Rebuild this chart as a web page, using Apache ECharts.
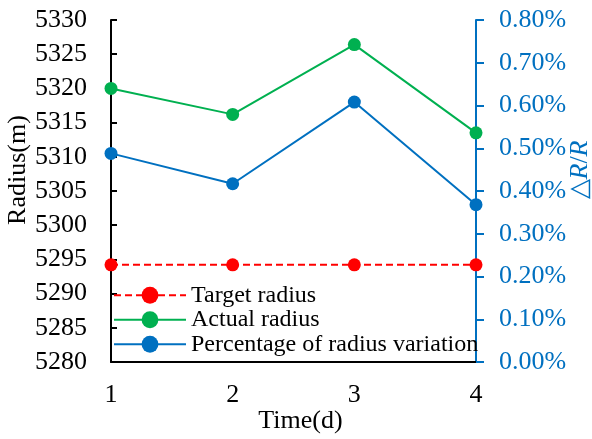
<!DOCTYPE html>
<html>
<head>
<meta charset="utf-8">
<script src="https://cdn.jsdelivr.net/npm/echarts@6/dist/echarts.min.js"></script>
<style>html,body{margin:0;padding:0;background:#fff;}#c{width:592px;height:439px;}</style>
</head>
<body>
<div id="c"></div>
<script>
const categories = ['1', '2', '3', '4'];
const targetRadius = [5294.2, 5294.2, 5294.2, 5294.2];
const actualRadius = [5320.0, 5316.2, 5326.4, 5313.5];
const radiusVariationPct = [0.488, 0.417, 0.608, 0.368];
const leftTicks = { min: 5280, max: 5330, interval: 5 };
const rightTicks = { min: 0, max: 0.8, interval: 0.1 };

const FONT = 'Liberation Serif';
const BLUE = '#0070C0';
const chart = echarts.init(document.getElementById('c'), null, { renderer: 'canvas' });
chart.setOption({
  animation: false,
  backgroundColor: '#fff',
  textStyle: { fontFamily: FONT },
  grid: { left: 111, right: 116, top: 20, bottom: 77, outerBoundsMode: 'none' },
  legend: {
    orient: 'vertical', left: 113, top: 283, padding: 0,
    itemWidth: 72, itemHeight: 21, itemGap: 0,
    textStyle: { fontFamily: FONT, fontSize: 24, color: '#000', lineHeight: 24.5, padding: [0, 0, 0, 0] },
    data: ['Target radius', 'Actual radius', 'Percentage of radius variation']
  },
  xAxis: {
    type: 'category', data: categories, boundaryGap: false,
    name: 'Time(d)', nameLocation: 'middle', nameGap: 46, nameMoveOverlap: false,
    nameTextStyle: { fontFamily: FONT, fontSize: 26, color: '#000', padding: [0, 0, 0, 14] },
    axisLine: { lineStyle: { color: '#000', width: 2 } },
    axisTick: { show: false },
    axisLabel: { fontFamily: FONT, fontSize: 26, color: '#000', margin: 20 },
    splitLine: { show: false }
  },
  yAxis: [{
    type: 'value', min: leftTicks.min, max: leftTicks.max, interval: leftTicks.interval,
    name: 'Radius(m)', nameLocation: 'middle', nameGap: 80, nameRotate: 90, nameMoveOverlap: false,
    nameTextStyle: { fontFamily: FONT, fontSize: 26, color: '#000', padding: [0, 0, 0, 42] },
    axisLine: { show: true, lineStyle: { color: '#000', width: 2 } },
    axisTick: { show: true, inside: true, length: 6, lineStyle: { color: '#000', width: 2 } },
    axisLabel: { fontFamily: FONT, fontSize: 26, color: '#000', margin: 24, formatter: v => String(v) },
    splitLine: { show: false }
  }, {
    type: 'value', position: 'right', min: rightTicks.min, max: rightTicks.max, interval: rightTicks.interval,
    name: '{a|△}{b|R}{a|/}{b|R}', nameLocation: 'middle', nameGap: 91, nameRotate: 90, nameMoveOverlap: false,
    nameTextStyle: {
      color: BLUE, padding: [0, 0, 0, 42],
      rich: {
        a: { fontFamily: FONT, fontSize: 26, color: BLUE },
        b: { fontFamily: FONT, fontSize: 26, color: BLUE, fontStyle: 'italic' }
      }
    },
    axisLine: { show: true, lineStyle: { color: BLUE, width: 2 } },
    axisTick: { show: true, inside: false, length: 8, lineStyle: { color: BLUE, width: 2 } },
    axisLabel: { fontFamily: FONT, fontSize: 26, color: BLUE, margin: 23,
      formatter: v => v.toFixed(2) + '%' },
    splitLine: { show: false }
  }],
  series: [{
    name: 'Target radius', type: 'line', yAxisIndex: 0, data: targetRadius,
    symbol: 'circle', symbolSize: 13,
    itemStyle: { color: '#FF0000' },
    lineStyle: { color: '#FF0000', width: 2, type: [7, 4] }
  }, {
    name: 'Actual radius', type: 'line', yAxisIndex: 0, data: actualRadius,
    symbol: 'circle', symbolSize: 13,
    itemStyle: { color: '#00B050' },
    lineStyle: { color: '#00B050', width: 2 }
  }, {
    name: 'Percentage of radius variation', type: 'line', yAxisIndex: 1, data: radiusVariationPct,
    symbol: 'circle', symbolSize: 13,
    itemStyle: { color: BLUE },
    lineStyle: { color: BLUE, width: 2 }
  }]
});
</script>
</body>
</html>
